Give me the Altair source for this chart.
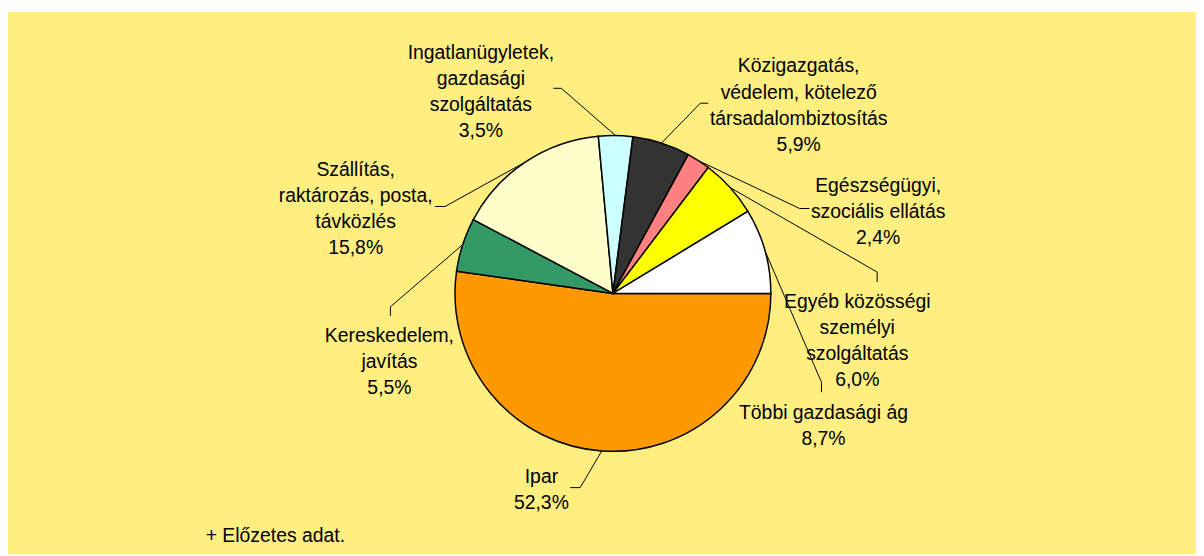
import math
import altair as alt
import pandas as pd

# ---- data ----
categories = [
    "Ipar",
    "Kereskedelem,\njavítás",
    "Szállítás,\nraktározás, posta,\ntávközlés",
    "Ingatlanügyletek,\ngazdasági\nszolgáltatás",
    "Közigazgatás,\nvédelem, kötelező\ntársadalombiztosítás",
    "Egészségügyi,\nszociális ellátás",
    "Egyéb közösségi\nszemélyi\nszolgáltatás",
    "Többi gazdasági ág",
]
values = [52.3, 5.5, 15.8, 3.5, 5.9, 2.4, 6.0, 8.7]
colors = ["#FF9900", "#339966", "#FFFFCC", "#CCFFFF", "#333333", "#FF8080", "#FFFF00", "#FFFFFF"]
footnote = "+ Előzetes adat."

# ---- layout (page pixels) ----
BG = "#FFEF80"
CX, CY, R = 617.0, 293.5, 159.0
FS = 19.5
LH = 26.3
TEXT_DY = 2
# centre x and first-line centre y of each label block
label_pos = [(545, 476), (392, 334), (358, 167), (484, 49), (804, 63), (884, 183), (863, 300), (829, 412)]
leader_elbow = [
    [(584, 489), (574, 489)],
    [(393, 307), (393, 316)],
    [(448, 206), (438, 206)],
    [(565, 87), (557, 87)],
    [(705, 102), (713, 102)],
    [(805, 208), (815, 208)],
    [(883, 272), (883, 282)],
    [(827, 383), (827, 393)],
]

W, H = 1196, 546
OX, OY = 8, 10

pie_df = pd.DataFrame({
    "cat": categories,
    "value": values,
    "color": colors,
    "order": list(range(len(values))),
})

total = sum(values)
labels = []
lines = []
cum = 0.0
for i, (c, v) in enumerate(zip(categories, values)):
    mid = math.pi / 2 + 2 * math.pi * (cum + v / 2) / total  # clockwise from 12 o'clock
    cum += v
    sx = CX + R * math.sin(mid)
    sy = CY - R * math.cos(mid)
    pts = [(sx, sy)] + leader_elbow[i]
    for j, (px, py) in enumerate(pts):
        lines.append({"id": i, "j": j, "x": px, "y": py})
    txt = c + "\n" + f"{v:.1f}".replace(".", ",") + "%"
    labels.append({"text": txt, "x": label_pos[i][0], "y": label_pos[i][1]})

lab_df = pd.DataFrame(labels)
line_df = pd.DataFrame(lines)
note_df = pd.DataFrame({"text": [footnote], "x": [207], "y": [536]})

xs = alt.Scale(domain=[OX, OX + W])
ys = alt.Scale(domain=[OY + H, OY])

pie = alt.Chart(pie_df).mark_arc(outerRadius=R, stroke="black", strokeWidth=1.5).encode(
    theta=alt.Theta("value:Q", stack=True, scale=alt.Scale(range=[math.pi / 2, math.pi / 2 + 2 * math.pi])),
    order=alt.Order("order:Q"),
    color=alt.Color("color:N", scale=None),
    x=alt.value(CX - OX),
    y=alt.value(CY - OY),
)

leaders = alt.Chart(line_df).mark_line(color="black", strokeWidth=1).encode(
    x=alt.X("x:Q", scale=xs, axis=None),
    y=alt.Y("y:Q", scale=ys, axis=None),
    detail="id:N",
    order="j:Q",
)

text = alt.Chart(lab_df).mark_text(
    align="center", baseline="middle", lineBreak="\n", lineHeight=LH,
    fontSize=FS, font="Liberation Sans", color="black", dy=TEXT_DY,
).encode(
    x=alt.X("x:Q", scale=xs, axis=None),
    y=alt.Y("y:Q", scale=ys, axis=None),
    text="text:N",
)

note = alt.Chart(note_df).mark_text(
    align="left", baseline="middle", fontSize=FS, font="Liberation Sans", color="black", dy=TEXT_DY,
).encode(
    x=alt.X("x:Q", scale=xs, axis=None),
    y=alt.Y("y:Q", scale=ys, axis=None),
    text="text:N",
)

chart = alt.layer(pie, leaders, text, note).properties(
    width=W, height=H,
    autosize=alt.AutoSizeParams(type="none"),
    padding={"left": 0, "top": 2, "right": 0, "bottom": 0},
    background="white",
).configure_view(stroke=None, fill=BG)

chart.save("out.html", embed_options={"renderer": "svg", "actions": False})
